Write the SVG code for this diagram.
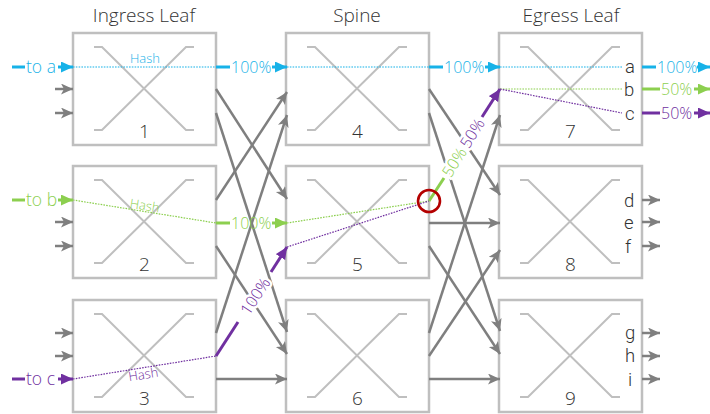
<svg xmlns="http://www.w3.org/2000/svg" xmlns:xlink="http://www.w3.org/1999/xlink" width="710" height="414" viewBox="0 0 710 414">
  <style>
    text { font-family: "Open Sans", "Liberation Sans", Arial, sans-serif; font-weight: 300; }
    .hdr { font-size: 19px; fill: #333; text-anchor: middle; }
    .num { font-size: 19px; fill: #333; text-anchor: middle; }
    .port { font-family: Roboto, "Liberation Sans", Arial, sans-serif; font-size: 18.5px; fill: #333; }
    .box { fill: #fff; stroke: #bfbfbf; stroke-width: 2.5; }
    .xsw { fill: none; stroke: #bfbfbf; stroke-width: 2; }
    .link { fill: none; stroke: #7f7f7f; stroke-width: 2.5; marker-end: url(#ah-gray); }
    .blue { stroke: #17b2e8; fill: #17b2e8; }
    .green { stroke: #8ccf4f; fill: #8ccf4f; }
    .purple { stroke: #7030a0; fill: #7030a0; }
    .thick { fill: none; stroke-width: 3; }
    .dot { fill: none; stroke-width: 1.2; stroke-dasharray: 1.6 1.2; }
    .lbl { font-size: 16px; stroke: none; }
    .to { font-size: 17.5px; stroke: none; }
    .hash { font-size: 13px; stroke: none; text-anchor: middle; }
    .halo { stroke: #fff; stroke-width: 5; paint-order: stroke; text-anchor: middle; dominant-baseline: central; }
  </style>
  <defs>
    <marker id="ah-gray" markerUnits="userSpaceOnUse" markerWidth="13" markerHeight="12" refX="12" refY="5.5" orient="auto" viewBox="0 0 13 12">
      <path d="M0,0 L12,5.5 L0,11 L3,5.5 z" fill="#7f7f7f"/>
    </marker>
    <marker id="ah-blue" markerUnits="userSpaceOnUse" markerWidth="13" markerHeight="12" refX="12" refY="5.5" orient="auto" viewBox="0 0 13 12">
      <path d="M0,0 L12,5.5 L0,11 z" fill="#17b2e8"/>
    </marker>
    <marker id="ah-green" markerUnits="userSpaceOnUse" markerWidth="13" markerHeight="12" refX="12" refY="5.5" orient="auto" viewBox="0 0 13 12">
      <path d="M0,0 L12,5.5 L0,11 z" fill="#8ccf4f"/>
    </marker>
    <marker id="ah-purple" markerUnits="userSpaceOnUse" markerWidth="13" markerHeight="12" refX="12" refY="5.5" orient="auto" viewBox="0 0 13 12">
      <path d="M0,0 L12,5.5 L0,11 z" fill="#7030a0"/>
    </marker>
    <!-- crossbar switch symbol -->
    <g id="sw">
      <rect class="box" x="0" y="0" width="143" height="112"/>
      <path class="xsw" d="M21,14 H29 L113,97 H121 M121,14 H113 L29,97 H21"/>
    </g>
  </defs>

  <!-- column headers -->
  <g id="headers">
    <text class="hdr" x="144" y="22">Ingress Leaf</text>
    <text class="hdr" x="357" y="22">Spine</text>
    <text class="hdr" x="571" y="22">Egress Leaf</text>
  </g>

  <!-- ingress leaves -->
  <g id="leaf1"><use xlink:href="#sw" x="73" y="33"/><text class="num" x="144.5" y="138">1</text></g>
  <g id="leaf2"><use xlink:href="#sw" x="73" y="166"/><text class="num" x="144.5" y="271">2</text></g>
  <g id="leaf3"><use xlink:href="#sw" x="73" y="300"/><text class="num" x="144.5" y="405">3</text></g>

  <!-- spines -->
  <g id="spine4"><use xlink:href="#sw" x="286" y="33"/><text class="num" x="357.5" y="138">4</text></g>
  <g id="spine5"><use xlink:href="#sw" x="286" y="166"/><text class="num" x="357.5" y="271">5</text></g>
  <g id="spine6"><use xlink:href="#sw" x="286" y="300"/><text class="num" x="357.5" y="405">6</text></g>

  <!-- egress leaves with host ports -->
  <g id="egress7"><use xlink:href="#sw" x="499" y="33"/><text class="num" x="570.5" y="138">7</text>
    <text class="port" x="625" y="73">a</text><text class="port" x="624" y="96">b</text><text class="port" x="625" y="120">c</text></g>
  <g id="egress8"><use xlink:href="#sw" x="499" y="166"/><text class="num" x="570.5" y="271">8</text>
    <text class="port" x="624" y="207">d</text><text class="port" x="624" y="229">e</text><text class="port" x="625" y="253">f</text></g>
  <g id="egress9"><use xlink:href="#sw" x="499" y="300"/><text class="num" x="570.5" y="405">9</text>
    <text class="port" x="625" y="339">g</text><text class="port" x="625" y="362">h</text><text class="port" x="628" y="386">i</text></g>

  <!-- fabric links -->
  <g id="links">
    <!-- host ports into ingress leaves -->
    <path class="link" d="M55,89 H73"/>
    <path class="link" d="M55,113 H73"/>
    <path class="link" d="M55,222 H73"/>
    <path class="link" d="M55,246 H73"/>
    <path class="link" d="M55,333 H73"/>
    <path class="link" d="M55,356 H73"/>
    <!-- leaf to spine -->
    <path class="link" d="M216,89 L287,199"/>
    <path class="link" d="M216,113 L287,332"/>
    <path class="link" d="M216,200 L287,92"/>
    <path class="link" d="M216,246 L287,354"/>
    <path class="link" d="M216,333 L287,115"/>
    <path class="link" d="M216,379 L287,379"/>
    <!-- spine to egress leaf -->
    <path class="link" d="M429,89 L500,195"/>
    <path class="link" d="M429,113 L500,331"/>
    <path class="link" d="M429,223 L500,223"/>
    <path class="link" d="M429,246 L500,354"/>
    <path class="link" d="M429,333 L500,115"/>
    <path class="link" d="M429,356 L500,250"/>
    <path class="link" d="M429,379 L500,379"/>
    <!-- egress host ports -->
    <path class="link" d="M642,200 H660"/>
    <path class="link" d="M642,222 H660"/>
    <path class="link" d="M642,246 H660"/>
    <path class="link" d="M642,333 H660"/>
    <path class="link" d="M642,356 H660"/>
    <path class="link" d="M642,379 H660"/>
  </g>

  <!-- flow to a (blue) -->
  <g id="flow-a" class="blue">
    <path class="thick" d="M12,67 H25"/>
    <text class="to" x="26" y="73">to a</text>
    <path class="thick" d="M58,67 H73" marker-end="url(#ah-blue)"/>
    <path class="dot" d="M73,67 H216"/>
    <text class="hash" x="145" y="63">Hash</text>
    <path class="thick" d="M216,67 H230"/>
    <text class="lbl" x="231" y="73">100%</text>
    <path class="thick" d="M272,67 H287" marker-end="url(#ah-blue)"/>
    <path class="dot" d="M287,67 H429"/>
    <path class="thick" d="M429,67 H443"/>
    <text class="lbl" x="444" y="73">100%</text>
    <path class="thick" d="M485,67 H500" marker-end="url(#ah-blue)"/>
    <path class="dot" d="M500,67 H622"/>
    <path class="thick" d="M642,67 H656"/>
    <text class="lbl" x="657" y="73">100%</text>
    <path class="thick" d="M697,67 H710" marker-end="url(#ah-blue)"/>
  </g>

  <!-- flow to b (green) -->
  <g id="flow-b" class="green">
    <path class="thick" d="M12,200 H25"/>
    <text class="to" x="26" y="206">to b</text>
    <path class="thick" d="M58,200 H73" marker-end="url(#ah-green)"/>
    <path class="dot" d="M73,200 L216,223"/>
    <text class="hash" x="144" y="210" transform="rotate(9.1 144 210)">Hash</text>
    <path class="thick" d="M216,223 H230"/>
    <text class="lbl" x="231" y="229">100%</text>
    <path class="thick" d="M272,223 H287" marker-end="url(#ah-green)"/>
    <path class="dot" d="M287,223 L429,201"/>
    <path class="thick" d="M429,201 L444,178"/>
    <text class="lbl halo" x="454" y="162" transform="rotate(-57.6 454 162)">50%</text>
    <path class="dot" d="M500,89 H622"/>
    <path class="thick" d="M642,89 H660"/>
    <text class="lbl" x="661" y="95">50%</text>
    <path class="thick" d="M694,89 H710" marker-end="url(#ah-green)"/>
  </g>

  <!-- flow to c (purple) -->
  <g id="flow-c" class="purple">
    <path class="thick" d="M12,379 H25"/>
    <text class="to" x="26" y="385">to c</text>
    <path class="thick" d="M58,379 H73" marker-end="url(#ah-purple)"/>
    <path class="dot" d="M73,379 L216,356"/>
    <text class="hash" x="144" y="379" transform="rotate(-9.1 144 379)">Hash</text>
    <path class="thick" d="M216,356 L238,322"/>
    <text class="lbl halo" x="255" y="296" transform="rotate(-56.9 255 296)">100%</text>
    <path class="thick" d="M271,272 L287,247" marker-end="url(#ah-purple)"/>
    <path class="dot" d="M287,247 L429,201"/>
    <text class="lbl halo" x="472" y="133" transform="rotate(-57.6 472 133)">50%</text>
    <path class="thick" d="M482,117 L500,89" marker-end="url(#ah-purple)"/>
    <path class="dot" d="M500,89 L622,113"/>
    <path class="thick" d="M642,113 H660"/>
    <text class="lbl" x="661" y="119">50%</text>
    <path class="thick" d="M694,113 H710" marker-end="url(#ah-purple)"/>
  </g>

  <!-- split point on spine 5 -->
  <circle id="split-mark" cx="429" cy="201" r="11" fill="none" stroke="#b40000" stroke-width="2.6"/>
</svg>
